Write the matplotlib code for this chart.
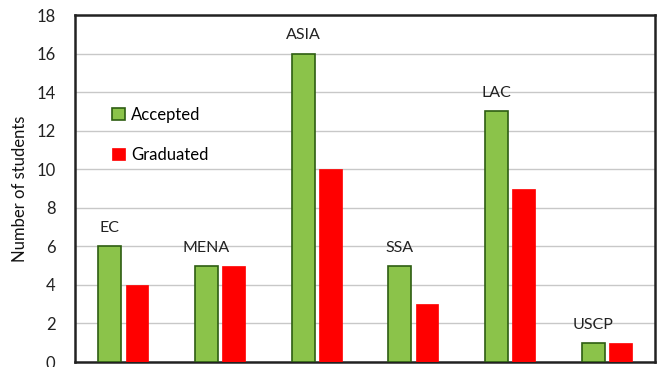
import matplotlib
matplotlib.use("Agg")
import matplotlib.pyplot as plt
import numpy as np

regions = ["EC", "MENA", "ASIA", "SSA", "LAC", "USCP"]
accepted = [6, 5, 16, 5, 13, 1]
graduated = [4, 5, 10, 3, 9, 1]
yticks = [0, 2, 4, 6, 8, 10, 12, 14, 16, 18]

plt.rcParams['font.family'] = ['Lato', 'DejaVu Sans']

fig = plt.figure(figsize=(6.64, 3.67), dpi=100)
ax = fig.add_axes([0.113, 0.0136, 0.8735, 0.9455])

x = np.arange(len(regions))
w = 0.235
off = 0.14
ax.bar(x - off, accepted, w, color="#8BC34A", edgecolor="#2E5E12", linewidth=1.2,
       label="Accepted", zorder=3)
ax.bar(x + off, graduated, w, color="#FF0000", edgecolor="#FF0000", linewidth=0.5,
       label="Graduated", zorder=3)

for xi, name, v in zip(x, regions, accepted):
    ax.annotate(name, (xi - off, v), xytext=(0, 8), textcoords="offset points",
                ha="center", va="bottom", fontsize=11.5, color="#222222")

ax.set_xlim(-0.5, len(regions) - 0.5)
ax.set_ylim(0, 18)
ax.set_yticks(yticks)
ax.set_xticks([])
ax.tick_params(axis="y", length=0, labelsize=12, pad=14, colors="#222222")
ax.grid(axis="y", color="#c8c8c8", linewidth=1.0, zorder=0)
for s in ax.spines.values():
    s.set_color("#222222")
    s.set_linewidth(1.8)
ax.set_ylabel("Number of students", fontsize=12, color="#111111", labelpad=6)

ax.legend(loc="upper left", bbox_to_anchor=(0.053, 0.754), frameon=False,
          fontsize=12, labelspacing=1.45, handlelength=0.75, handleheight=0.75,
          handletextpad=0.35, borderaxespad=0)

fig.savefig("out.png", dpi=100)
